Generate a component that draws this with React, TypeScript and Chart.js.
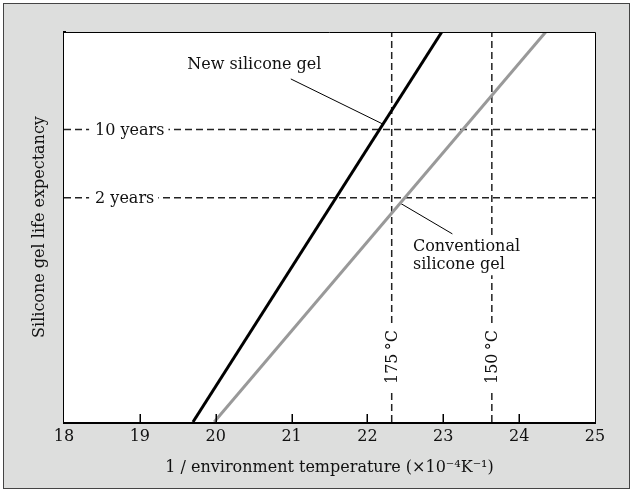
import React, { useEffect, useRef } from 'react';
import { Chart, registerables } from 'chart.js';

Chart.register(...registerables);

const FONT = '"DejaVu Serif", "Liberation Serif", serif';

// axes
const xMin = 18;
const xMax = 25;
const xTickValues = [18, 19, 20, 21, 22, 23, 24, 25];
const lifeMin = 0.01; // years (log scale, no tick labels)
const lifeMax = 100;

// series: 1/T (x10^-4 K^-1) vs life expectancy (years)
const newGelX = [19.7, 22.98];
const newGelLife = [0.01, 100];
const convGelX = [19.98, 24.35];
const convGelLife = [0.01, 100];

// reference lines
const lifeLevels = [10, 2];
const lifeLabels = ['10 years', '2 years'];
const tempLevels = [22.32, 23.64];
const tempLabels = ['175\u2009°C', '150\u2009°C'];

// annotation leaders
const newLeaderX = [20.99, 22.2];
const newLeaderLife = [33, 11.4];
const convLeaderX = [22.43, 23.12];
const convLeaderLife = [1.76, 0.85];

// annotation anchors (data units)
const newLabelAt = [20.51, 45.9];
const newLabelText = 'New silicone gel';
const convLabelAt = [22.6, 0.62];
const convLabelText = ['Conventional', 'silicone gel'];
const lifeLabelX = 18.41;
const tempLabelLife = 0.0464;

const pts = (xs: number[], ys: number[]) => xs.map((x, i) => ({ x, y: ys[i] }));

const decor = {
  id: 'decor',
  beforeDatasetsDraw(chart: any) {
    const { ctx, chartArea: a } = chart;
    ctx.save();
    ctx.fillStyle = '#ffffff';
    ctx.fillRect(a.left, a.top, a.right - a.left, a.bottom - a.top);
    ctx.restore();
  },
  afterDatasetsDraw(chart: any) {
    const { ctx } = chart;
    const xs = chart.scales.x;
    const ys = chart.scales.y;
    ctx.save();
    ctx.font = `16px ${FONT}`;
    ctx.textBaseline = 'middle';
    ctx.fillStyle = '#111';
    // life labels
    lifeLevels.forEach((lv, i) => {
      const px = xs.getPixelForValue(lifeLabelX);
      const py = ys.getPixelForValue(lv);
      const w = ctx.measureText(lifeLabels[i]).width;
      ctx.fillStyle = '#fff';
      ctx.fillRect(px - 6, py - 8, w + 10, 16);
      ctx.fillStyle = '#111';
      ctx.textAlign = 'left';
      ctx.fillText(lifeLabels[i], px, py + 1);
    });
    // temperature labels
    tempLevels.forEach((t, i) => {
      const px = xs.getPixelForValue(t);
      const py = ys.getPixelForValue(tempLabelLife);
      const w = ctx.measureText(tempLabels[i]).width;
      ctx.save();
      ctx.translate(px, py);
      ctx.rotate(-Math.PI / 2);
      ctx.fillStyle = '#fff';
      ctx.fillRect(-w / 2 - 5, -7, w + 10, 14);
      ctx.fillStyle = '#111';
      ctx.textAlign = 'center';
      ctx.fillText(tempLabels[i], 0, 1);
      ctx.restore();
    });
    // series labels
    ctx.textAlign = 'center';
    ctx.fillText(newLabelText, xs.getPixelForValue(newLabelAt[0]), ys.getPixelForValue(newLabelAt[1]));
    ctx.textAlign = 'left';
    const cx = xs.getPixelForValue(convLabelAt[0]);
    const cy = ys.getPixelForValue(convLabelAt[1]);
    const cw = Math.max(...convLabelText.map((t) => ctx.measureText(t).width));
    ctx.fillStyle = '#fff';
    ctx.fillRect(cx - 3, cy - 10, cw + 6, 18 * convLabelText.length + 2);
    ctx.fillStyle = '#111';
    convLabelText.forEach((t, i) => ctx.fillText(t, cx, cy + i * 18));
    ctx.restore();
  },
  afterDraw(chart: any) {
    const { ctx, chartArea: a } = chart;
    const xs = chart.scales.x;
    ctx.save();
    ctx.strokeStyle = '#000';
    ctx.lineWidth = 1;
    ctx.beginPath();
    ctx.moveTo(a.left, a.top + 0.5);
    ctx.lineTo(a.right + 0.5, a.top + 0.5);
    ctx.lineTo(a.right + 0.5, a.bottom);
    ctx.stroke();
    ctx.lineWidth = 1.5;
    xTickValues.forEach((v) => {
      if (v === xMin || v === xMax) return;
      const px = Math.round(xs.getPixelForValue(v)) + 0.25;
      ctx.beginPath();
      ctx.moveTo(px, a.bottom);
      ctx.lineTo(px, a.bottom - 8);
      ctx.stroke();
    });
    ctx.restore();
  },
};

export default function App() {
  const ref = useRef<HTMLCanvasElement | null>(null);
  useEffect(() => {
    if (!ref.current) return;
    const dash = { borderColor: '#222', borderWidth: 1.5, borderDash: [7, 4], pointRadius: 0, order: 2 };
    const datasets: any[] = [
      { data: pts(newGelX, newGelLife), borderColor: '#000', borderWidth: 3, pointRadius: 0, order: 0 },
      { data: pts(convGelX, convGelLife), borderColor: '#999', borderWidth: 3, pointRadius: 0, order: 0 },
      { data: pts(newLeaderX, newLeaderLife), borderColor: '#000', borderWidth: 1, pointRadius: 0, order: 1 },
      { data: pts(convLeaderX, convLeaderLife), borderColor: '#000', borderWidth: 1, pointRadius: 0, order: 1 },
      ...lifeLevels.map((lv) => ({ ...dash, data: pts([xMin, xMax], [lv, lv]) })),
      ...tempLevels.map((t) => ({ ...dash, data: pts([t, t], [lifeMin, lifeMax]) })),
    ];
    const chart = new Chart(ref.current, {
      type: 'line',
      data: { datasets },
      options: {
        responsive: false,
        animation: false,
        devicePixelRatio: 1,
        layout: { padding: { left: 0, top: 32, right: 38, bottom: 0 } },
        plugins: { legend: { display: false }, tooltip: { enabled: false } },
        elements: { line: { tension: 0 }, point: { radius: 0 } },
        scales: {
          x: {
            type: 'linear',
            min: xMin,
            max: xMax,
            afterFit: (s: any) => { s.height = 70; },
            afterBuildTicks: (s: any) => { s.ticks = xTickValues.map((v) => ({ value: v })); },
            grid: { display: false, drawTicks: false },
            border: { display: true, width: 3, color: '#000' },
            ticks: { color: '#111', font: { family: FONT, size: 16 }, padding: 5, maxRotation: 0, autoSkip: false },
            title: {
              display: true,
              text: '1 / environment temperature (×10⁻⁴K⁻¹)',
              color: '#111',
              font: { family: FONT, size: 16 },
              padding: { top: 0, bottom: 15 },
            },
          },
          y: {
            type: 'logarithmic',
            min: lifeMin,
            max: lifeMax,
            afterFit: (s: any) => { s.width = 64; },
            grid: { display: false, drawTicks: false },
            border: { display: true, width: 3, color: '#000' },
            ticks: { display: false },
            title: {
              display: true,
              text: 'Silicone gel life expectancy',
              color: '#111',
              font: { family: FONT, size: 16 },
              padding: { top: 30, bottom: 0 },
            },
          },
        },
      },
      plugins: [decor],
    } as any);
    return () => chart.destroy();
  }, []);
  return (
    <div style={{ position: 'fixed', left: 0, top: 0, width: 633, height: 492, background: '#fff' }}>
      <div
        style={{
          position: 'absolute', left: 3, top: 3, width: 625, height: 484,
          background: '#dddedd', border: '1px solid #444',
        }}
      />
      <canvas ref={ref} width={633} height={492} style={{ position: 'absolute', left: 0, top: 0 }} />
    </div>
  );
}
